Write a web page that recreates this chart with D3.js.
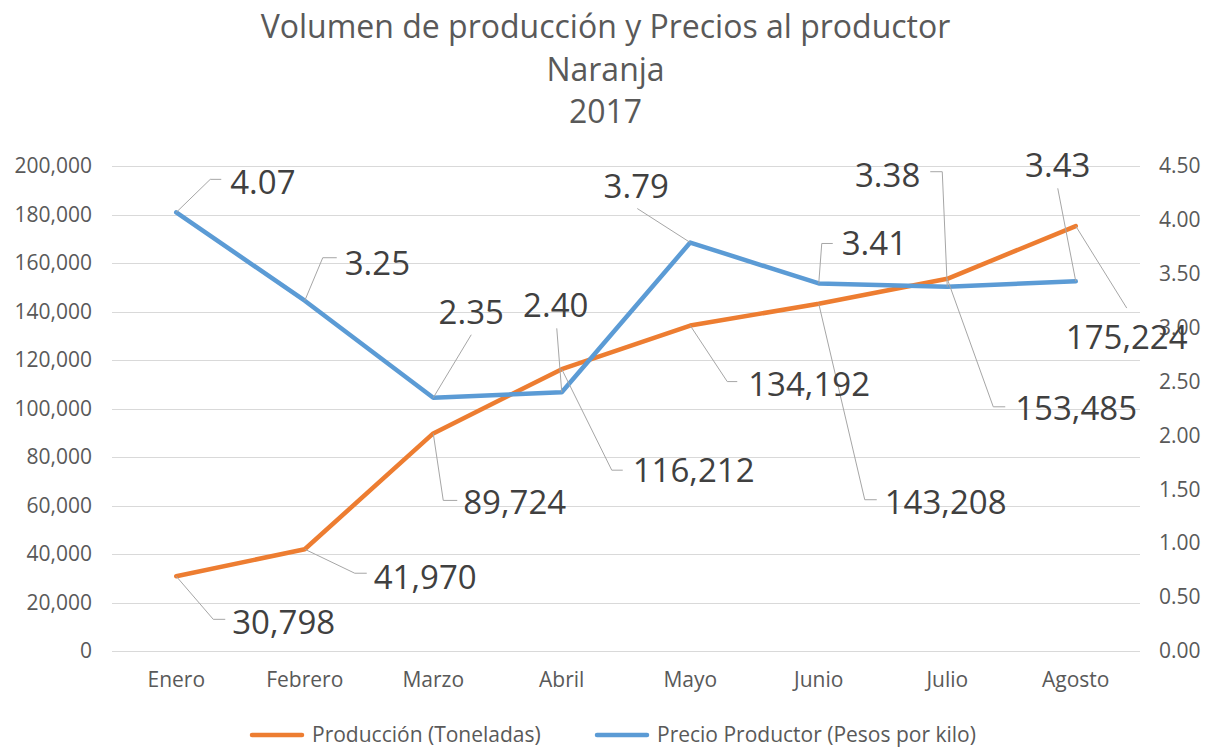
<!DOCTYPE html>
<html>
<head>
<meta charset="utf-8">
<script src="https://cdn.jsdelivr.net/npm/d3@7"></script>
<style>
  body { margin: 0; background: #ffffff; }
  svg text { font-family: "Open Sans", sans-serif; }
</style>
</head>
<body>
<div id="chart"></div>
<script>
(function () {
  "use strict";

  ////////////////////////////////////////////////////////////////////////////
  //
  // Data
  //
  var months = ["Enero", "Febrero", "Marzo", "Abril", "Mayo", "Junio", "Julio", "Agosto"];
  var production = [30798, 41970, 89724, 116212, 134192, 143208, 153485, 175224];
  var prices = [4.07, 3.25, 2.35, 2.40, 3.79, 3.41, 3.38, 3.43];
  var title_lines = ["Volumen de producción y Precios al productor", "Naranja", "2017"];
  var legend_names = ["Producción (Toneladas)", "Precio Productor (Pesos por kilo)"];

  // Where each data label sits relative to its point (leader elbow, stub end, text)
  var price_label_layout = [
    { elbow: [34, -33], stub: 45, text: [54, -30], anchor: "start" },
    { elbow: [18, -43], stub: 32, text: [40, -38], anchor: "start" },
    { elbow: [38, -63], stub: null, text: [38, -86], anchor: "middle" },
    { elbow: [-5, -64], stub: null, text: [-6, -87], anchor: "middle" },
    { elbow: [-53, -34], stub: null, text: [-54, -56], anchor: "middle" },
    { elbow: [3, -40], stub: 14, text: [23, -40], anchor: "start" },
    { elbow: [-5, -115], stub: -17, text: [-27, -112], anchor: "end" },
    { elbow: [-18, -93], stub: null, text: [-18, -116], anchor: "middle" }
  ];
  var production_label_layout = [
    { elbow: [37, 43], stub: 49, text: [56, 46], anchor: "start" },
    { elbow: [50, 24], stub: 62, text: [69, 28], anchor: "start" },
    { elbow: [10, 67], stub: 24, text: [30, 69], anchor: "start" },
    { elbow: [50, 101], stub: 61, text: [71, 101], anchor: "start" },
    { elbow: [37, 56], stub: 47, text: [58, 59], anchor: "start" },
    { elbow: [46, 196], stub: 58, text: [66, 198], anchor: "start" },
    { elbow: [46, 128], stub: 58, text: [68, 129], anchor: "start" },
    { elbow: [51, 82], stub: null, text: [51, 111], anchor: "middle" }
  ];

  ////////////////////////////////////////////////////////////////////////////
  //
  // Layout
  //
  var width = 1211;
  var height = 747;
  var plot_l = 112, plot_r = 1140, plot_t = 166, plot_b = 651;
  var orange = "#ed7d31";
  var blue = "#5b9bd5";
  var axis_color = "#595959";
  var label_color = "#404040";
  var leader_color = "#a6a6a6";

  var svg = d3.select("#chart")
    .append("svg")
    .attr("width", width)
    .attr("height", height);

  var x = d3.scaleBand().domain(months).range([plot_l, plot_r]);
  var y_left = d3.scaleLinear().domain([0, 200000]).range([plot_b, plot_t]);
  var y_right = d3.scaleLinear().domain([0, 4.5]).range([plot_b, plot_t]);
  var cx = function (d, i) { return x(months[i]) + x.bandwidth() / 2; };

  ////////////////////////////////////////////////////////////////////////////
  //
  // Title
  //
  svg.append("g")
    .selectAll("text")
    .data(title_lines)
    .enter()
    .append("text")
    .attr("x", width / 2)
    .attr("y", function (d, i) { return 27 + i * 42.5; })
    .attr("dy", "0.35em")
    .attr("text-anchor", "middle")
    .attr("font-size", 32)
    .attr("fill", axis_color)
    .text(function (d) { return d; });

  ////////////////////////////////////////////////////////////////////////////
  //
  // Gridlines and axes
  //
  var left_ticks = y_left.ticks(10);
  var right_ticks = y_right.ticks(10);

  svg.append("g")
    .selectAll("line")
    .data(left_ticks)
    .enter()
    .append("line")
    .attr("x1", plot_l)
    .attr("x2", plot_r)
    .attr("y1", function (d) { return Math.round(y_left(d)) + 0.5; })
    .attr("y2", function (d) { return Math.round(y_left(d)) + 0.5; })
    .attr("stroke", "#d9d9d9")
    .attr("stroke-width", 1);

  var left_axis = svg.append("g")
    .attr("transform", "translate(" + (plot_l - 20) + ",0)")
    .call(d3.axisLeft(y_left).tickValues(left_ticks).tickFormat(d3.format(",")).tickSize(0).tickPadding(0));

  var right_axis = svg.append("g")
    .attr("transform", "translate(" + (plot_r + 19) + ",0)")
    .call(d3.axisRight(y_right).tickValues(right_ticks).tickFormat(d3.format(".2f")).tickSize(0).tickPadding(0));

  var bottom_axis = svg.append("g")
    .attr("transform", "translate(0," + (plot_b + 21) + ")")
    .call(d3.axisBottom(x).tickSize(0).tickPadding(0));

  [left_axis, right_axis, bottom_axis].forEach(function (g) {
    g.select(".domain").remove();
    g.selectAll("text")
      .attr("font-size", 21)
      .attr("fill", axis_color);
  });

  ////////////////////////////////////////////////////////////////////////////
  //
  // Lines
  //
  function addLine(values, scale, color) {
    var line = d3.line()
      .x(function (d, i) { return cx(d, i); })
      .y(function (d) { return scale(d); });
    svg.append("path")
      .datum(values)
      .attr("d", line)
      .attr("fill", "none")
      .attr("stroke", color)
      .attr("stroke-width", 4.5)
      .attr("stroke-linejoin", "round")
      .attr("stroke-linecap", "round");
  }

  addLine(production, y_left, orange);
  addLine(prices, y_right, blue);

  ////////////////////////////////////////////////////////////////////////////
  //
  // Data labels with leader lines
  //
  function addLabels(values, scale, layout, fmt) {
    var g = svg.append("g");
    values.forEach(function (v, i) {
      var px = cx(v, i);
      var py = scale(v);
      var l = layout[i];
      var pts = [[px, py], [px + l.elbow[0], py + l.elbow[1]]];
      if (l.stub !== null) {
        pts.push([px + l.stub, py + l.elbow[1]]);
      }
      g.append("path")
        .attr("d", d3.line()(pts))
        .attr("fill", "none")
        .attr("stroke", leader_color)
        .attr("stroke-width", 1);
    });
    values.forEach(function (v, i) {
      var px = cx(v, i);
      var py = scale(v);
      var l = layout[i];
      g.append("text")
        .attr("x", px + l.text[0])
        .attr("y", py + l.text[1])
        .attr("dy", "0.36em")
        .attr("text-anchor", l.anchor)
        .attr("font-size", 33)
        .attr("fill", label_color)
        .text(fmt(v));
    });
  }

  addLabels(prices, y_right, price_label_layout, d3.format(".2f"));
  addLabels(production, y_left, production_label_layout, d3.format(","));

  ////////////////////////////////////////////////////////////////////////////
  //
  // Legend
  //
  var legend_items = [
    { name: legend_names[0], color: orange, x: 252 },
    { name: legend_names[1], color: blue, x: 597 }
  ];
  var legend = svg.append("g").attr("transform", "translate(0,735)");
  legend_items.forEach(function (d) {
    legend.append("line")
      .attr("x1", d.x)
      .attr("x2", d.x + 50)
      .attr("y1", 0)
      .attr("y2", 0)
      .attr("stroke", d.color)
      .attr("stroke-width", 4.5)
      .attr("stroke-linecap", "round");
    legend.append("text")
      .attr("x", d.x + 60)
      .attr("y", 0)
      .attr("dy", "0.35em")
      .attr("font-size", 21)
      .attr("fill", axis_color)
      .text(d.name);
  });
})();
</script>
</body>
</html>
